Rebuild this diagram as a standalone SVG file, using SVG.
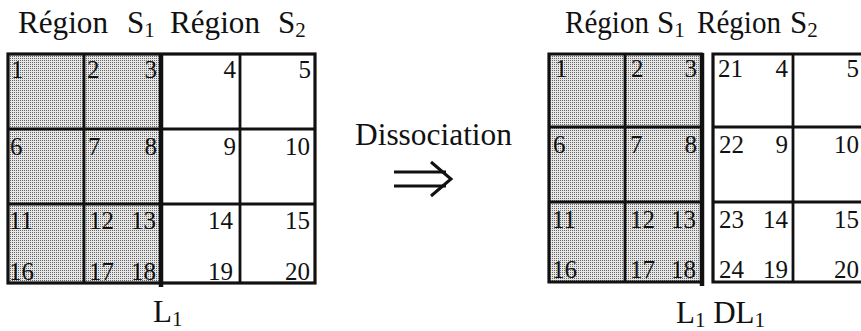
<svg xmlns="http://www.w3.org/2000/svg" width="861" height="331" viewBox="0 0 861 331">
<style>
text{font-family:"Liberation Serif","Times New Roman",serif;fill:#111}
.t{font-size:31px}
.n{font-size:25px}
.r{text-anchor:end}
.sub{font-size:21px}
.ln{stroke:#111;stroke-width:2.8;fill:none}
.bd{stroke:#111;stroke-width:3.2;fill:none}
.thk{stroke:#111;stroke-width:4.5;fill:none}
.shade{fill:url(#dots)}
</style>
<defs>
<pattern id="dots" width="2" height="2" patternUnits="userSpaceOnUse">
<rect width="2" height="2" fill="#e6e6e6"/>
<rect width="1" height="1" fill="#666"/>
</pattern>
</defs>
<rect width="861" height="331" fill="#fff"/>

<g id="title-left">
<text class="t" x="18" y="33" textLength="90" lengthAdjust="spacingAndGlyphs">Région</text>
<text class="t" x="127" y="33">S<tspan class="sub" dy="4">1</tspan></text>
<text class="t" x="170" y="33" textLength="90" lengthAdjust="spacingAndGlyphs">Région</text>
<text class="t" x="278" y="33">S<tspan class="sub" dy="4">2</tspan></text>
</g>

<g id="grid-L1">
<rect class="shade" x="8" y="54" width="154" height="229"/>
<path class="ln" d="M84 54V283M240 54V283M8 129H315M8 204H315"/>
<rect class="bd" x="8" y="54" width="307" height="229"/>
<path class="thk" d="M161 53V287"/>
<text class="n" x="11" y="78">1</text>
<text class="n" x="87" y="78">2</text>
<text class="n r" x="157" y="78">3</text>
<text class="n r" x="236" y="78">4</text>
<text class="n r" x="311" y="78">5</text>
<text class="n" x="10" y="155">6</text>
<text class="n" x="88" y="155">7</text>
<text class="n r" x="157" y="155">8</text>
<text class="n r" x="236" y="155">9</text>
<text class="n r" x="310" y="155">10</text>
<text class="n" x="9" y="229">11</text>
<text class="n" x="89" y="229">12</text>
<text class="n r" x="156" y="229">13</text>
<text class="n r" x="233" y="229">14</text>
<text class="n r" x="310" y="229">15</text>
<text class="n" x="9" y="280">16</text>
<text class="n" x="89" y="280">17</text>
<text class="n r" x="156" y="280">18</text>
<text class="n r" x="233" y="280">19</text>
<text class="n r" x="310" y="280">20</text>
<text class="t" x="153" y="322">L<tspan class="sub" dy="4">1</tspan></text>
</g>

<g id="title-right">
<text class="t" x="565" y="33" textLength="84" lengthAdjust="spacingAndGlyphs">Région</text>
<text class="t" x="657" y="33">S<tspan class="sub" dy="4">1</tspan></text>
<text class="t" x="697" y="33" textLength="84" lengthAdjust="spacingAndGlyphs">Région</text>
<text class="t" x="790" y="33">S<tspan class="sub" dy="4">2</tspan></text>
</g>

<g id="grid-S1-right">
<rect class="shade" x="549" y="54" width="154" height="228"/>
<path class="ln" d="M625 54V282M549 127H703M549 202H703"/>
<path class="bd" d="M703 54H549V282H703"/>
<path class="thk" d="M702 53V286"/>
<text class="n" x="555" y="77">1</text>
<text class="n" x="631" y="77">2</text>
<text class="n r" x="697" y="77">3</text>
<text class="n" x="553" y="153">6</text>
<text class="n" x="630" y="153">7</text>
<text class="n r" x="697" y="153">8</text>
<text class="n" x="552" y="228">11</text>
<text class="n" x="630" y="228">12</text>
<text class="n r" x="696" y="228">13</text>
<text class="n" x="552" y="278">16</text>
<text class="n" x="630" y="278">17</text>
<text class="n r" x="696" y="278">18</text>
</g>

<g id="grid-DL1-right">
<path class="ln" d="M793 54V282M713 127H870M713 202H870"/>
<path class="bd" d="M870 54H713V282H870"/>
<text class="n" x="718" y="77">21</text>
<text class="n r" x="788" y="77">4</text>
<text class="n r" x="859" y="77">5</text>
<text class="n" x="719" y="153">22</text>
<text class="n r" x="788" y="153">9</text>
<text class="n r" x="859" y="153">10</text>
<text class="n" x="719" y="228">23</text>
<text class="n r" x="788" y="228">14</text>
<text class="n r" x="859" y="228">15</text>
<text class="n" x="719" y="278">24</text>
<text class="n r" x="788" y="278">19</text>
<text class="n r" x="859" y="278">20</text>
<text class="t" x="676" y="323">L<tspan class="sub" dy="4">1</tspan><tspan dy="-4"> DL</tspan><tspan class="sub" dy="4">1</tspan></text>
</g>

<g id="connectors">
<text class="t" x="355" y="145" textLength="157" lengthAdjust="spacingAndGlyphs">Dissociation</text>
<path d="M394 172H446M394 186H446" stroke="#111" stroke-width="3" fill="none"/>
<path d="M431 162L451 179L431 196" stroke="#111" stroke-width="3" fill="none" stroke-linejoin="miter"/>
</g>
</svg>
